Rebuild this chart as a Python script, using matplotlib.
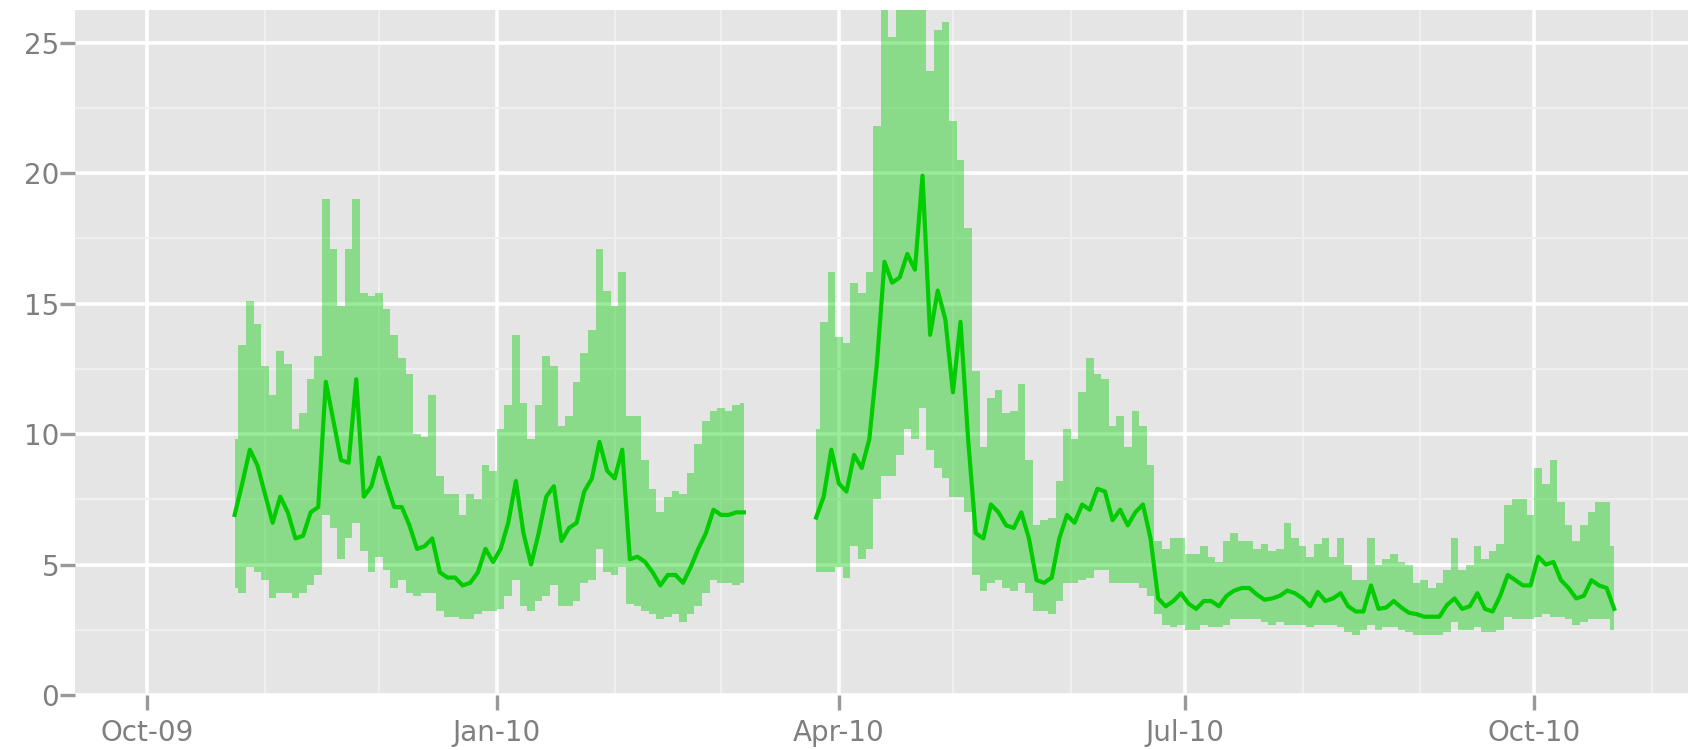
import numpy as np
import pandas as pd
import matplotlib
matplotlib.use('Agg')
import matplotlib.pyplot as plt
import matplotlib.dates as mdates
from matplotlib.ticker import MultipleLocator

# readings every 2 days, two runs with a gap in March 2010
start1 = "2009-10-24"
start2 = "2010-03-26"

upper1 = [9.8, 13.4, 15.1, 14.2, 12.6, 11.5, 13.2, 12.7, 10.2, 10.8, 12.1, 13.0, 19.0, 17.1, 14.9, 17.1,
          19.0, 15.4, 15.3, 15.4, 14.8, 13.8,
          12.9, 12.3, 10.0, 9.9, 11.5, 8.4, 7.7, 7.7, 6.9, 7.7, 7.5, 8.8, 8.6, 10.2, 11.1, 13.8,
          11.2, 9.8, 11.1, 13.0, 12.6, 10.3, 10.7,
          12.0, 13.1, 14.0, 17.1, 15.5, 14.9, 16.2, 10.7, 10.7, 9.0, 7.9, 7.0, 7.6, 7.8, 7.7, 8.5,
          9.6, 10.5, 10.9, 11.0, 10.9, 11.1, 11.2]
mid1 = [6.9, 8.1, 9.4, 8.8, 7.7, 6.6, 7.6, 7.0, 6.0, 6.1, 7.0, 7.2, 12.0, 10.5, 9.0, 8.9,
        12.1, 7.6, 8.0, 9.1, 8.1, 7.2,
        7.2, 6.5, 5.6, 5.7, 6.0, 4.7, 4.5, 4.5, 4.2, 4.3, 4.7, 5.6, 5.1, 5.6, 6.6, 8.2,
        6.2, 5.0, 6.2, 7.6, 8.0, 5.9, 6.4,
        6.6, 7.8, 8.3, 9.7, 8.6, 8.3, 9.4, 5.2, 5.3, 5.1, 4.7, 4.2, 4.6, 4.6, 4.3, 4.9,
        5.6, 6.2, 7.1, 6.9, 6.9, 7.0, 7.0]
lower1 = [4.1, 3.9, 4.9, 4.7, 4.4, 3.7, 3.9, 3.9, 3.7, 3.9, 4.2, 4.6, 6.9, 6.4, 5.2, 6.0,
          6.6, 5.5, 4.7, 5.3, 4.8, 4.1,
          4.4, 3.9, 3.8, 3.9, 3.9, 3.2, 3.0, 3.0, 2.9, 2.9, 3.1, 3.2, 3.2, 3.3, 3.8, 4.4,
          3.4, 3.2, 3.6, 3.8, 4.2, 3.4, 3.4,
          3.6, 4.3, 4.4, 5.6, 4.7, 4.6, 4.9, 3.5, 3.4, 3.2, 3.1, 2.9, 3.0, 3.1, 2.8, 3.1,
          3.4, 3.9, 4.4, 4.3, 4.3, 4.2, 4.3]

upper2 = [10.2, 14.3, 16.2, 13.7, 13.5, 15.8, 15.4, 16.2, 21.8, 27.0, 25.2, 27.5, 27.5, 27.5, 27.5,
          23.9, 25.5, 25.8, 22.0, 20.5, 17.9, 12.4, 9.5, 11.4, 11.7, 10.8, 10.9, 11.9, 9.0,
          6.5, 6.7, 6.8, 8.2, 10.2, 9.8, 11.6, 12.9, 12.3, 12.1, 10.3, 10.7, 9.5, 10.9, 10.3,
          8.8, 5.9, 5.6, 6.0, 6.0, 5.4, 5.4, 5.7, 5.3, 5.1, 5.9, 6.2, 5.9, 5.9,
          5.6, 5.8, 5.5, 5.6, 6.6, 6.0, 5.7, 5.3, 5.8, 6.0, 5.3, 6.0, 5.0, 4.4, 4.4, 6.0,
          5.0, 5.2, 5.4, 5.1, 5.0, 4.3, 4.4, 4.1, 4.3, 4.8,
          6.0, 4.8, 5.0, 5.7, 5.2, 5.5, 5.8, 7.3, 7.5, 7.5, 6.9, 8.7, 8.1, 9.0, 7.4, 6.5,
          5.9, 6.5, 7.0, 7.4, 7.4, 5.7]
mid2 = [6.8, 7.6, 9.4, 8.1, 7.8, 9.2, 8.7, 9.8, 12.7, 16.6, 15.8, 16.0, 16.9, 16.3, 19.9,
        13.8, 15.5, 14.4, 11.6, 14.3, 9.8, 6.2, 6.0, 7.3, 7.0, 6.5, 6.4, 7.0, 6.0,
        4.4, 4.3, 4.5, 6.0, 6.9, 6.6, 7.3, 7.1, 7.9, 7.8, 6.7, 7.1, 6.5, 7.0, 7.3,
        6.0, 3.7, 3.4, 3.6, 3.9, 3.5, 3.3, 3.6, 3.6, 3.4, 3.8, 4.0, 4.1, 4.1,
        3.85, 3.65, 3.7, 3.8, 4.0, 3.9, 3.7, 3.4, 3.95, 3.6, 3.7, 3.9, 3.4, 3.2, 3.2, 4.2,
        3.3, 3.35, 3.6, 3.35, 3.15, 3.1, 3.0, 3.0, 3.0, 3.45,
        3.7, 3.3, 3.4, 3.9, 3.3, 3.2, 3.8, 4.6, 4.4, 4.2, 4.2, 5.3, 5.0, 5.1, 4.4, 4.1,
        3.7, 3.8, 4.4, 4.2, 4.1, 3.3]
lower2 = [4.7, 4.7, 4.7, 4.9, 4.5, 5.7, 5.2, 5.6, 7.5, 8.4, 8.4, 9.2, 10.2, 9.8, 11.0,
          9.4, 8.7, 8.3, 7.6, 7.6, 7.0, 4.6, 4.0, 4.3, 4.4, 4.1, 4.0, 4.3, 3.9,
          3.2, 3.2, 3.1, 3.6, 4.3, 4.3, 4.4, 4.5, 4.8, 4.8, 4.3, 4.3, 4.3, 4.3, 4.1,
          3.8, 3.1, 2.7, 2.6, 2.7, 2.5, 2.5, 2.7, 2.6, 2.6, 2.7, 2.9, 2.9, 2.9,
          2.9, 2.8, 2.7, 2.8, 2.7, 2.7, 2.7, 2.6, 2.7, 2.7, 2.7, 2.6, 2.4, 2.3, 2.5, 2.7,
          2.5, 2.6, 2.6, 2.5, 2.4, 2.3, 2.3, 2.3, 2.3, 2.4,
          2.8, 2.5, 2.5, 2.6, 2.4, 2.4, 2.5, 3.0, 2.9, 2.9, 2.9, 3.0, 3.1, 3.0, 3.0, 2.9,
          2.7, 2.8, 2.9, 2.9, 2.9, 2.5]

dates1 = pd.date_range(start1, periods=len(mid1), freq="2D")
dates2 = pd.date_range(start2, periods=len(mid2), freq="2D")

GREEN = '#00CC00'

fig = plt.figure(figsize=(16.88, 7.5), dpi=100)
ax = fig.add_axes([75 / 1688, 55 / 750, 1 - 75 / 1688, 685 / 750])
ax.set_facecolor('#E5E5E5')
for s in ax.spines.values():
    s.set_visible(False)

for d, lo, hi, m in [(dates1, lower1, upper1, mid1), (dates2, lower2, upper2, mid2)]:
    ax.fill_between(d, lo, hi, step='mid', color=GREEN, alpha=0.4, lw=0)
    ax.plot(d, m, color=GREEN, lw=3.0)

ax.set_xlim(pd.Timestamp("2009-09-12"), pd.Timestamp("2010-11-10 10:00"))
ax.set_ylim(0, 26.25)

ax.xaxis.set_major_locator(mdates.MonthLocator(bymonth=[1, 4, 7, 10]))
ax.xaxis.set_minor_locator(mdates.MonthLocator())
ax.xaxis.set_major_formatter(mdates.DateFormatter('%b-%y'))
ax.yaxis.set_major_locator(MultipleLocator(5))
ax.yaxis.set_minor_locator(MultipleLocator(2.5))

ax.set_axisbelow(True)
ax.grid(which='major', color='white', lw=2.6)
ax.grid(which='minor', color='#F0F0F0', lw=1.4)
ax.tick_params(which='major', length=10.5, width=2.4, color='#999999',
               labelcolor='#7F7F7F', labelsize=20)
ax.tick_params(axis='x', which='major', pad=7)
ax.tick_params(axis='y', which='major', pad=1)
ax.tick_params(which='minor', length=0)

fig.savefig('out.png', dpi=100)
